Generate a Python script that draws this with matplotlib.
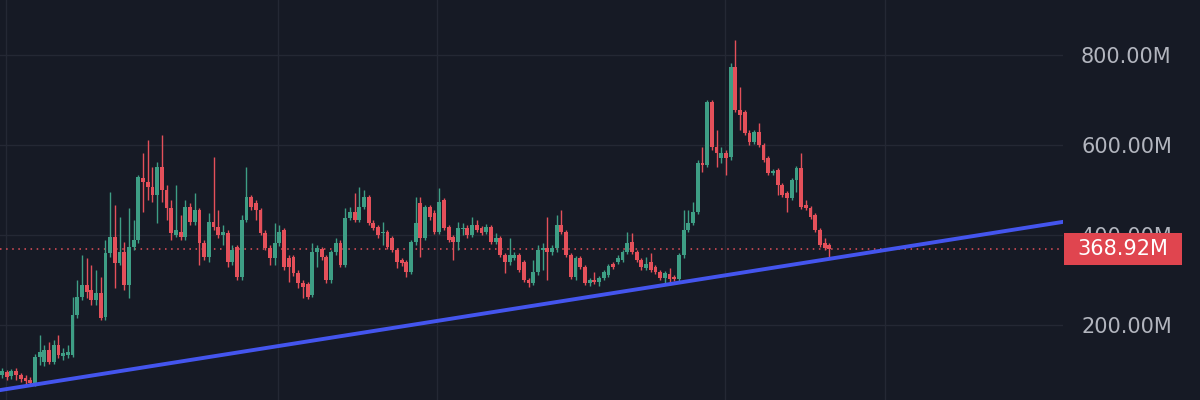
import numpy as np
import matplotlib
matplotlib.use("Agg")
import matplotlib.pyplot as plt
from matplotlib.patches import Rectangle
import matplotlib.transforms as mtransforms

# Precios (millones) de cada vela
opens = [
    89, 96, 87, 98, 89, 82, 78, 71,
    129, 118, 144, 118, 156, 131, 133,
    133, 222, 262, 289, 278, 256, 271, 218,
    360, 396, 338, 362, 289, 373, 389,
    527, 518, 507, 489, 551, 500, 460, 400, 407, 396, 462, 429, 456, 382, 351,
    429, 418, 400, 404, 340, 373, 307, 433, 484, 471, 456, 404, 371, 349, 382,
    411, 349, 351, 316, 293, 291, 267, 362, 369, 351, 300, 362, 382, 333, 438, 451, 433,
    462, 484, 427, 418, 404, 407, 393, 367, 344, 340, 318, 384, 471, 393, 462, 449, 407,
    478, 418, 396, 384, 413, 416, 400, 422, 416, 407, 418, 384, 393, 356, 340, 349, 356,
    340, 300, 293, 318, 367, 371, 362, 371, 422, 407, 356, 307, 349, 329, 293, 300, 296,
    304, 311, 336, 340, 344, 362, 384, 362, 344, 327, 340, 329, 318, 304, 313, 307, 302,
    356, 411, 427, 451,
    560, 556, 696, 596, 571, 582, 573, 773, 678, 673, 627, 607, 629, 600, 571, 538,
    544, 511, 493, 482, 522, 549, 467, 460, 444, 411, 382, 378,
]
highs = [
    104, 100, 102, 104, 93, 89, 84, 136,
    178, 156, 162, 167, 178, 149, 156,
    262, 300, 356, 349, 333, 322, 307, 389,
    496, 467, 440, 384, 460, 433, 533,
    582, 611, 551, 562, 622, 511, 478, 511, 444, 478, 471, 493, 460, 389, 449,
    573, 456, 422, 411, 378, 378, 444, 551, 489, 478, 460, 411, 378, 427, 422,
    416, 356, 356, 322, 300, 296, 382, 378, 373, 356, 367, 393, 389, 460, 462, 493, 507,
    500, 489, 433, 422, 429, 411, 398, 371, 349, 344, 389, 484, 484, 467, 467, 456, 504,
    482, 422, 400, 429, 427, 422, 440, 433, 420, 424, 422, 404, 398, 360, 393, 362, 360,
    344, 304, 344, 378, 382, 440, 378, 444, 456, 411, 360, 353, 353, 333, 304, 318, 309,
    322, 336, 340, 356, 367, 407, 404, 367, 349, 351, 360, 333, 322, 320, 327, 311, 360,
    456, 456, 473, 567,
    596, 700, 700, 633, 596, 589, 782, 833, 729, 678, 633, 633, 649, 604, 576, 547,
    549, 516, 498, 527, 553, 582, 478, 464, 449, 416, 393, 382,
]
lows = [
    82, 78, 80, 78, 73, 69, 64, 64,
    111, 109, 113, 113, 127, 122, 127,
    129, 216, 256, 260, 244, 244, 211, 211,
    351, 282, 333, 278, 260, 367, 382,
    451, 478, 473, 427, 473, 433, 389, 396, 389, 389, 422, 422, 333, 344, 340,
    411, 393, 378, 329, 333, 300, 300, 429, 456, 433, 400, 367, 333, 333, 376,
    322, 296, 309, 282, 260, 258, 262, 329, 344, 293, 293, 356, 329, 329, 433, 429, 429,
    458, 422, 411, 393, 378, 369, 362, 327, 331, 307, 313, 378, 351, 389, 433, 402, 402,
    411, 384, 344, 367, 400, 393, 396, 407, 400, 402, 380, 380, 351, 316, 333, 344, 318,
    296, 284, 289, 311, 322, 300, 356, 362, 402, 351, 302, 300, 324, 289, 287, 291, 287,
    300, 307, 324, 336, 340, 358, 358, 340, 322, 322, 318, 313, 300, 289, 289, 298, 298,
    349, 407, 422, 447,
    540, 551, 589, 551, 560, 533, 567, 673, 633, 622, 600, 602, 596, 562, 533, 533,
    489, 484, 451, 478, 496, 458, 456, 436, 407, 373, 367, 351,
]
closes = [
    98, 84, 98, 89, 80, 76, 71, 129,
    140, 144, 118, 156, 133, 138, 140,
    222, 262, 289, 273, 256, 271, 216, 360,
    396, 338, 362, 289, 373, 389, 529,
    518, 507, 489, 551, 500, 460, 404, 411, 396, 462, 429, 456, 382, 351, 429,
    418, 400, 407, 340, 367, 307, 433, 484, 462, 456, 404, 371, 349, 382, 407,
    329, 329, 316, 293, 284, 262, 362, 371, 351, 300, 362, 382, 333, 438, 451, 433, 462,
    484, 427, 416, 400, 407, 373, 367, 340, 338, 318, 384, 427, 393, 462, 440, 407, 473,
    416, 389, 384, 416, 416, 400, 422, 411, 404, 418, 384, 393, 356, 340, 356, 356, 322,
    300, 293, 318, 367, 371, 362, 371, 422, 407, 356, 307, 349, 329, 293, 300, 296, 304,
    318, 331, 329, 349, 362, 382, 362, 344, 329, 336, 322, 318, 304, 316, 302, 302, 356,
    411, 427, 451, 560,
    556, 696, 596, 582, 582, 571, 773, 678, 667, 627, 607, 629, 600, 567, 538, 542,
    511, 489, 482, 522, 549, 462, 460, 440, 411, 378, 371, 368.92,
]
price_ticks = [200, 400, 600, 800]
# línea de tendencia: dos puntos (vela, precio)
trend_pts = [(0, 56), (225, 428)]

bg = "#161a25"
grid_c = "#242834"
up_c = "#3e9e85"
down_c = "#e4505a"
text_c = "#b2b5be"
label_c = "#e0454f"

o = np.array(opens, dtype=float)
h = np.array(highs, dtype=float)
l = np.array(lows, dtype=float)
c = np.array(closes, dtype=float)
x = np.arange(len(c))
up = c >= o

fig = plt.figure(figsize=(12, 4), dpi=100, facecolor=bg)
ax = fig.add_axes([0, 0, 1063 / 1200, 1])
ax.set_facecolor(bg)
for s in ax.spines.values():
    s.set_visible(False)

ax.set_xlim(-0.43, 225.7)
ax.set_ylim(33.3, 922.2)

# rejilla
for v in price_ticks:
    ax.axhline(v, color=grid_c, lw=1, zorder=0)
for gx in [0.85, 58.7, 92.6, 153.8, 187.9]:
    ax.axvline(gx, color=grid_c, lw=1, zorder=0)

colors = np.where(up, up_c, down_c)
ax.vlines(x, l, h, colors=colors, lw=1, zorder=2)
body_lo = np.minimum(o, c)
body_h = np.maximum(np.abs(c - o), 2.0)
ax.bar(x, body_h, bottom=body_lo, width=0.82, color=colors, zorder=3, linewidth=0)

# tendencia
ax.axline(trend_pts[0], trend_pts[1], color="#4455ee", lw=2.8, zorder=4)

# precio actual
last = closes[-1]
ax.axhline(last, color=down_c, lw=1.1, linestyle=(0, (1, 3)), zorder=1)

ax.set_xticks([])
ax.yaxis.tick_right()
ax.set_yticks(price_ticks)
ax.set_yticklabels([f"{v:.2f}M" for v in price_ticks])
ax.tick_params(axis="y", length=0, pad=13, labelsize=15, labelcolor=text_c)

trans = mtransforms.blended_transform_factory(ax.transAxes, ax.transData)
ax.add_patch(Rectangle((1.001, last - 36.5), 0.111, 73, transform=trans,
                       facecolor=label_c, edgecolor="none", clip_on=False, zorder=10))
ax.text(1.001 + 0.0555, last, f"{last:.2f}M", transform=trans, ha="center", va="center",
        color="white", fontsize=15, zorder=11, clip_on=False)

fig.savefig("out.png", dpi=100, facecolor=bg)
